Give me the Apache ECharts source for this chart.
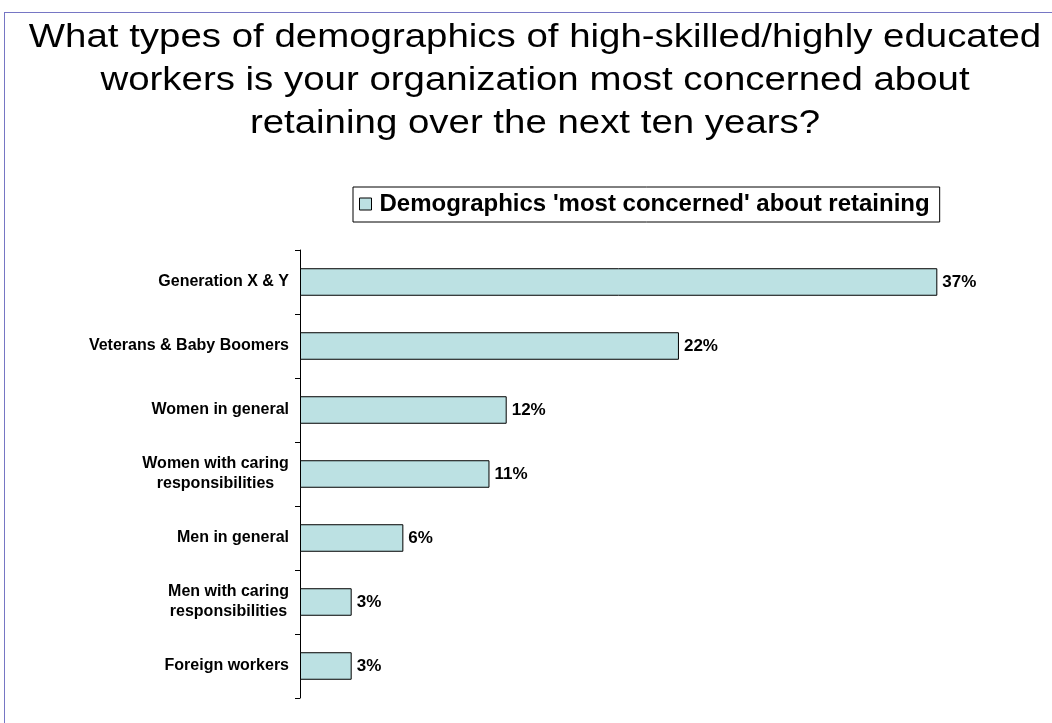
<!DOCTYPE html>
<html>
<head>
<meta charset="utf-8">
<script src="https://cdn.jsdelivr.net/npm/echarts@6/dist/echarts.min.js"></script>
<style>
html,body{margin:0;padding:0;background:#fff;}
#frame{position:absolute;left:4px;top:12px;width:1100px;height:800px;border-top:1px solid #7676c4;border-left:1px solid #7676c4;}
#chart{position:absolute;left:0;top:0;width:1052px;height:723px;}
</style>
</head>
<body>
<div id="frame"></div>
<div id="chart"></div>
<script>
const titleText = "What types of demographics of high-skilled/highly educated\nworkers is your organization most concerned about\nretaining over the next ten years?";
const seriesName = "Demographics 'most concerned' about retaining";
const categories = ["Generation X & Y","Veterans & Baby Boomers","Women in general","Women with caring\nresponsibilities","Men in general","Men with caring\nresponsibilities","Foreign workers"];
const values = [37,22,12,11,6,3,3];

const labelFont = {fontFamily:'Liberation Sans, Arial', fontSize:16, fontWeight:'bold', color:'#000', lineHeight:20};
const measureCtx = document.createElement('canvas').getContext('2d');
measureCtx.font = 'bold 16px "Liberation Sans", Arial';
const rich = {};
categories.forEach(function(c, i){
  if (c.indexOf('\n') >= 0) {
    const w = Math.max.apply(null, c.split('\n').map(function(l){return Math.ceil(measureCtx.measureText(l).width);}));
    rich['c' + i] = Object.assign({width: w, align: 'center'}, labelFont);
  }
});

const chart = echarts.init(document.getElementById('chart'), null, {renderer:'canvas'});
chart.setOption({
  backgroundColor: 'transparent',
  animation: false,
  graphic: [{
    type: 'text', x: 535, y: 16, scaleX: 1.13, scaleY: 1,
    style: {
      text: titleText, x: 0, y: 0,
      align: 'center', textAlign: 'center', verticalAlign: 'top', textVerticalAlign: 'top',
      fontFamily: 'Liberation Sans, Arial', fontSize: 34, fontWeight: 'normal',
      lineHeight: 43, fill: '#000'
    }
  }],
  legend: {
    data: [seriesName],
    left: 353, top: 187,
    padding: [5, 10, 6, 6],
    borderColor: '#000', borderWidth: 1,
    icon: 'rect', itemWidth: 12, itemHeight: 12, itemGap: 0,
    textStyle: {fontFamily:'Liberation Sans, Arial', fontSize:24, fontWeight:'bold', color:'#000', padding:[0,0,0,3]},
    itemStyle: {borderColor:'#000', borderWidth:1}
  },
  grid: {left: 300, top: 250, width: 689, height: 448, containLabel: false},
  xAxis: {
    type: 'value', min: 0, max: 40, show: false
  },
  yAxis: {
    type: 'category', data: categories, inverse: true,
    axisLine: {show:true, lineStyle:{color:'#000', width:1}},
    axisTick: {show:true, inside:false, length:5, lineStyle:{color:'#000'}},
    axisLabel: Object.assign({margin:11, align:'right', rich: rich,
      formatter: function(v, i){
        if (rich['c' + i]) return v.split('\n').map(function(l){return '{c' + i + '|' + l + '}';}).join('\n');
        return v;
      }}, labelFont),
    splitLine: {show:false}
  },
  series: [{
    name: seriesName, type: 'bar', data: values, barWidth: '43%',
    itemStyle: {color:'#BCE1E3', borderColor:'#000', borderWidth:1},
    label: {show:true, position:'right', distance:5, formatter:'{c}%', fontFamily:'Liberation Sans, Arial', fontSize:17, fontWeight:'bold', color:'#000'}
  }]
});
</script>
</body>
</html>
